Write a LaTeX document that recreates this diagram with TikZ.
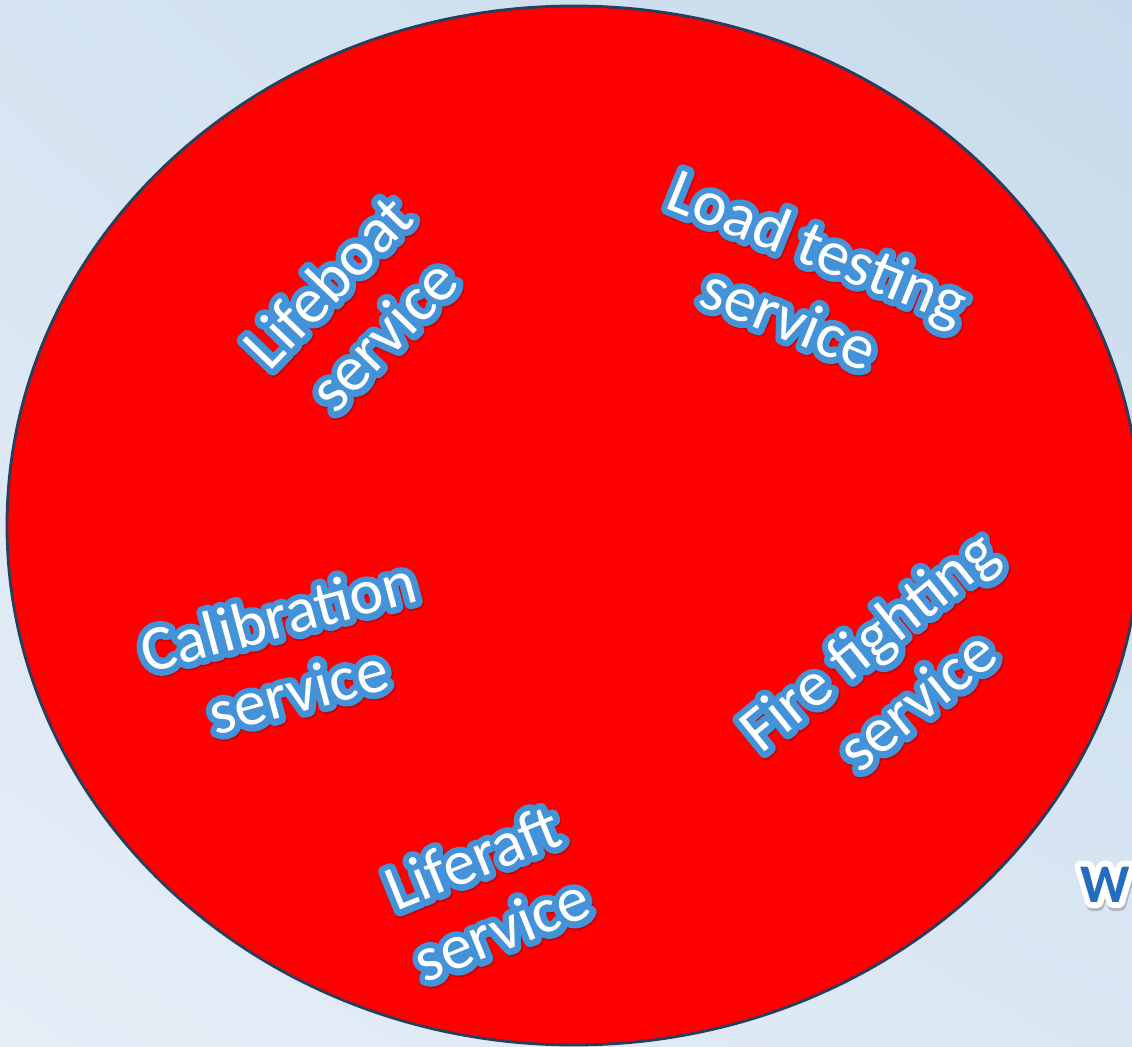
\documentclass[tikz,border=0pt]{standalone}
\usepackage{fontspec}
\setmainfont{Carlito}
\newfontfamily\rimfont[FakeBold=20]{Carlito}
\newfontfamily\wrimfont[FakeBold=22,BoldFont={* Bold}]{Carlito}
\usetikzlibrary{calc,shadings}
\definecolor{wablue}{RGB}{68,146,216}
\definecolor{rimblue}{RGB}{38,62,96}
\definecolor{bgtl}{RGB}{214,228,241}
\definecolor{bgtr}{RGB}{199,218,235}
\definecolor{bgbl}{RGB}{229,238,247}
\definecolor{bgbr}{RGB}{218,231,243}
\definecolor{wdark}{RGB}{36,108,192}
\tikzset{
  servicetext/.style={font=\fontsize{36.5}{44}\selectfont, align=center, inner sep=0pt},
  servicerim/.style={servicetext, font=\rimfont\fontsize{36.5}{44}\selectfont, text=wablue, line join=round},
  edgetext/.style={font=\bfseries\fontsize{31}{36}\selectfont, inner sep=0pt, anchor=base west},
}
% white letters with a blue rim: name, centre, angle, text
\newcommand\wordart[4]{%
  \node[servicerim, text=black, text opacity=0.2, rotate=#3] at ($(#2)+(1.2,1.6)$) {#4};
  \node[servicerim, rotate=#3] at (#2) {#4};
  \node[servicetext, text=white, rotate=#3] (#1) at (#2) {#4};
}

\begin{document}
\begin{tikzpicture}[x=0.02cm, y=-0.02cm]
		%%%%% START %%%%%
		\useasboundingbox (0,0) rectangle (1132,1047);
		\shade[upper left=bgtl, upper right=bgtr, lower left=bgbl, lower right=bgbr] (0,0) rectangle (1132,1047);
		
		\draw[fill=red, draw=rimblue, line width=1.6pt] (574,525.5) ellipse [x radius=567, y radius=519.5];
		
		\wordart{lifeboat}{355,308}{46}{Lifeboat\\service}
		\wordart{loadtest}{804,282}{-22}{Load testing\\service}
		\wordart{calib}{288,653}{15}{Calibration\\service}
		\wordart{firefight}{892,670}{39}{Fire fighting\\service}
		\wordart{liferaft}{487,893}{22}{Liferaft\\service}
		
		\node[edgetext, font=\wrimfont\bfseries\fontsize{31}{36}\selectfont, text=black, text opacity=0.2, line join=round] at (1081,905) {W};
		\node[edgetext, font=\wrimfont\bfseries\fontsize{31}{36}\selectfont, text=white, line join=round] at (1080,902) {W};
		\node[edgetext, text=wdark] (wpart) at (1080,902) {W};
		%%%%% END %%%%%
\end{tikzpicture}
\end{document}
